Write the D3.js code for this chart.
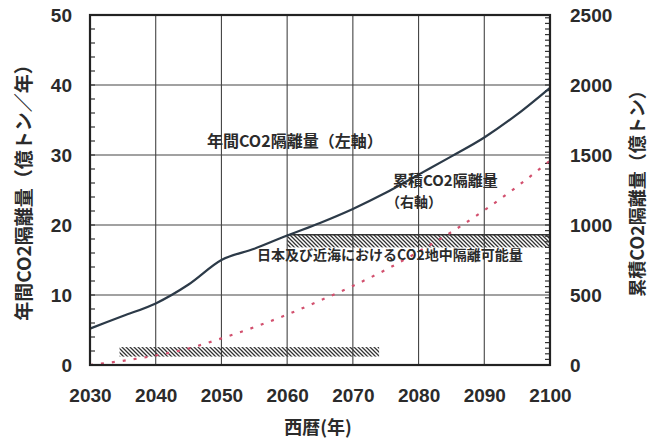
<!DOCTYPE html>
<html>
<head>
  <meta charset="utf-8">
  <script src="https://d3js.org/d3.v7.min.js"></script>
  <style>
    body { margin: 0; background: #fff; }
    text { font-family: "Liberation Sans", "Noto Sans CJK JP", sans-serif; fill: #2b2b2b; }
    .jp { font-family: "Noto Sans CJK JP", sans-serif; }
  </style>
</head>
<body>
<div id="chart"></div>
<script>
// data
const years = [2030, 2035, 2040, 2045, 2050, 2055, 2060, 2065, 2070, 2075, 2080, 2085, 2090, 2095, 2100];
const annual = [5.2, 7.0, 8.8, 11.5, 15.0, 16.6, 18.5, 20.3, 22.3, 24.6, 27.2, 29.8, 32.5, 35.8, 39.6];
const cumulative = [0, 30, 68, 118, 190, 270, 360, 460, 565, 680, 810, 950, 1105, 1275, 1460];

const xTicks = [2030, 2040, 2050, 2060, 2070, 2080, 2090, 2100];
const leftTicks = [0, 10, 20, 30, 40, 50];
const rightTicks = [0, 500, 1000, 1500, 2000, 2500];

// hatched capacity bands (right axis units)
const bandStart = [2034.5, 2060];
const bandEnd = [2074, 2100];
const bandLow = [60, 840];
const bandHigh = [128, 930];

const W = 658, H = 439;
const margin = {top: 15, right: 108, bottom: 74, left: 90};
const width = W - margin.left - margin.right,
      height = H - margin.top - margin.bottom;

const svg = d3.select("#chart").append("svg")
    .attr("width", W).attr("height", H);

const defs = svg.append("defs");
defs.append("pattern")
    .attr("id", "hatch")
    .attr("patternUnits", "userSpaceOnUse")
    .attr("width", 4).attr("height", 4)
  .append("path")
    .attr("d", "M0,0 L4,4 M-1,3 L1,5 M3,-1 L5,1")
    .attr("stroke", "#333")
    .attr("stroke-width", 1.3);

const g = svg.append("g").attr("transform", `translate(${margin.left},${margin.top})`);

const x = d3.scaleLinear().domain([2030, 2100]).range([0, width]);
const yL = d3.scaleLinear().domain([0, 50]).range([height, 0]);
const yR = d3.scaleLinear().domain([0, 2500]).range([height, 0]);

// grid
g.selectAll(".vgrid").data(xTicks.slice(1, -1)).join("line")
    .attr("x1", d => x(d)).attr("x2", d => x(d))
    .attr("y1", 0).attr("y2", height)
    .attr("stroke", "#444").attr("stroke-width", 1.1);
g.selectAll(".hgrid").data(leftTicks.slice(1, -1)).join("line")
    .attr("x1", 0).attr("x2", width)
    .attr("y1", d => yL(d)).attr("y2", d => yL(d))
    .attr("stroke", "#444").attr("stroke-width", 1.1);

// hatched bands
for (let i = 0; i < bandStart.length; i++) {
  g.append("rect")
      .attr("x", x(bandStart[i]))
      .attr("y", yR(bandHigh[i]))
      .attr("width", x(bandEnd[i]) - x(bandStart[i]))
      .attr("height", yR(bandLow[i]) - yR(bandHigh[i]))
      .attr("fill", "url(#hatch)");
}
g.append("line")
    .attr("x1", x(bandStart[1])).attr("x2", x(bandEnd[1]))
    .attr("y1", yR(bandHigh[1])).attr("y2", yR(bandHigh[1]))
    .attr("stroke", "#333").attr("stroke-width", 1.5);

// minor ticks inside the frame
g.selectAll(".lminor").data(d3.range(0, 50, 2)).join("line")
    .attr("x1", 0).attr("x2", 5)
    .attr("y1", d => yL(d)).attr("y2", d => yL(d))
    .attr("stroke", "#333").attr("stroke-width", 1.2);
g.selectAll(".rminor").data(d3.range(0, 2500, 40)).join("line")
    .attr("x1", width - 5).attr("x2", width)
    .attr("y1", d => yR(d)).attr("y2", d => yR(d))
    .attr("stroke", "#333").attr("stroke-width", 1.2);

// cumulative (right axis) dotted red
g.append("path")
    .datum(years.map((d, i) => [d, cumulative[i]]))
    .attr("d", d3.line().x(d => x(d[0])).y(d => yR(d[1])).curve(d3.curveMonotoneX))
    .attr("fill", "none")
    .attr("stroke", "#d2506e")
    .attr("stroke-width", 2.2)
    .attr("stroke-dasharray", "3,8");

// annual (left axis) solid
g.append("path")
    .datum(years.map((d, i) => [d, annual[i]]))
    .attr("d", d3.line().x(d => x(d[0])).y(d => yL(d[1])).curve(d3.curveMonotoneX))
    .attr("fill", "none")
    .attr("stroke", "#2c3a48")
    .attr("stroke-width", 2.2);

// frame
g.append("rect")
    .attr("width", width).attr("height", height)
    .attr("fill", "none").attr("stroke", "#222").attr("stroke-width", 2.2);

// axes
const axB = g.append("g").attr("transform", `translate(0,${height})`)
    .call(d3.axisBottom(x).tickValues(xTicks).tickFormat(d3.format("d")).tickSize(0).tickPadding(24));
const axL = g.append("g")
    .call(d3.axisLeft(yL).tickValues(leftTicks).tickFormat(d3.format("d")).tickSize(0).tickPadding(18));
const axR = g.append("g").attr("transform", `translate(${width},0)`)
    .call(d3.axisRight(yR).tickValues(rightTicks).tickFormat(d3.format("d")).tickSize(0).tickPadding(20));
[axB, axL, axR].forEach(a => {
  a.select(".domain").remove();
  a.selectAll("text").style("font-size", "19px").style("font-weight", "bold").attr("fill", "#2b2b2b");
});

// axis titles
svg.append("text").attr("class", "jp")
    .attr("transform", "translate(22,188) rotate(-90)")
    .attr("text-anchor", "middle").attr("dominant-baseline", "central")
    .style("font-size", "19px").style("font-weight", "bold")
    .text("年間CO2隔離量（億トン／年）");
svg.append("text").attr("class", "jp")
    .attr("transform", "translate(636,189) rotate(-90)")
    .attr("text-anchor", "middle").attr("dominant-baseline", "central")
    .style("font-size", "18px").style("font-weight", "bold")
    .text("累積CO2隔離量（億トン）");
svg.append("text").attr("class", "jp")
    .attr("x", 318).attr("y", 426)
    .attr("text-anchor", "middle").attr("dominant-baseline", "central")
    .style("font-size", "18px").style("font-weight", "bold")
    .text("西暦(年)");

// annotations
const note = (tx, ty, s, size) => svg.append("text").attr("class", "jp")
    .attr("x", tx).attr("y", ty).attr("dominant-baseline", "central")
    .style("font-size", size + "px").style("font-weight", "bold")
    .text(s);
note(207, 140, "年間CO2隔離量（左軸）", 16);
note(393, 179, "累積CO2隔離量", 15);
note(386, 201, "（右軸）", 14);
note(257, 254, "日本及び近海におけるCO2地中隔離可能量", 14);
</script>
</body>
</html>
